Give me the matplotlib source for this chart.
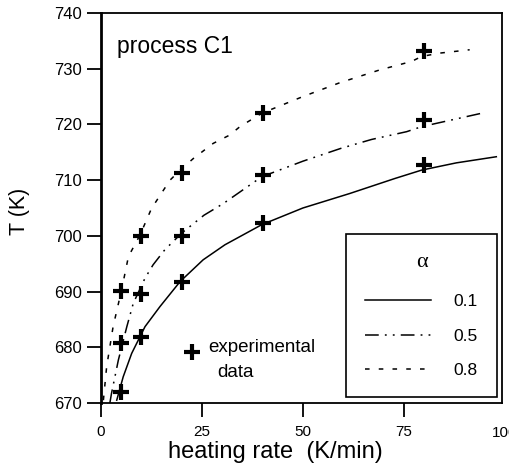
import matplotlib
matplotlib.use('Agg')
from matplotlib import pyplot as plt
from matplotlib.lines import Line2D

plt.rcParams['font.family'] = ['Liberation Sans', 'DejaVu Sans']

# model curves
x_a01 = [3.9, 5.5, 7.6, 10.9, 14.6, 19.6, 25.3, 30.7, 39.8, 50.0, 61.6, 72.8, 79.4, 88.0, 97.9]
T_a01 = [670.5, 674.7, 678.9, 683.7, 687.3, 691.8, 695.7, 698.4, 702.0, 705.0, 707.6, 710.3, 711.8, 713.1, 714.2]

x_a05 = [2.2, 2.6, 4.3, 6.4, 8.0, 10.9, 12.9, 15.8, 20.0, 25.5, 30.3, 39.8, 50.0, 59.4, 67.0, 75.7, 79.4, 94.2]
T_a05 = [670.0, 671.7, 677.7, 683.7, 687.9, 692.4, 694.8, 697.5, 700.5, 703.7, 705.8, 710.6, 713.4, 715.7, 717.3, 718.7, 719.6, 722.0]

x_a08 = [0.6, 1.4, 3.0, 5.1, 6.8, 9.7, 12.5, 15.2, 17.1, 19.6, 22.9, 27.8, 31.9, 34.4, 39.8, 50.0, 59.2, 69.1, 76.9, 79.4, 83.9, 91.3]
T_a08 = [670.5, 676.5, 683.7, 690.3, 696.3, 700.2, 704.9, 707.9, 710.0, 711.8, 713.9, 716.6, 718.1, 719.6, 722.0, 725.0, 727.5, 729.8, 731.3, 732.2, 732.8, 733.4]

# experimental data
x_exp = [5, 10, 20, 40, 80]
T_exp01 = [671.9, 681.8, 691.8, 702.3, 712.8]
T_exp05 = [680.8, 689.5, 699.9, 710.9, 720.8]
T_exp08 = [690.1, 699.9, 711.2, 722.1, 733.1]

xticks = [0, 25, 50, 75]
yticks = [670, 680, 690, 700, 710, 720, 730, 740]

ls_05 = (0, (9, 4, 1.2, 4, 1.2, 4))
ls_08 = (0, (3, 6))

fig = plt.figure(figsize=(5.09, 4.71), dpi=100)
ax = fig.add_axes([0.1984, 0.1444, 0.7878, 0.828])

ax.plot(x_a01, T_a01, color='black', lw=1.1, ls='-')
ax.plot(x_a05, T_a05, color='black', lw=1.1, ls=ls_05)
ax.plot(x_a08, T_a08, color='black', lw=1.1, ls=ls_08)

for T in (T_exp01, T_exp05, T_exp08):
    ax.plot(x_exp, T, ls='none', marker='+', ms=11, mew=3, color='black')

ax.set_xlim(0, 99.3)
ax.set_ylim(670, 740)
ax.set_xticks(xticks)
ax.set_yticks(yticks)
ax.tick_params(direction='out', length=10, width=1.3, labelsize=12, pad=4)
ax.tick_params(axis='x', labelsize=11, pad=6)
# tick label at 100 falls just past the right edge (cut like the original)
ax.text(100, 670 - 4.2, '100', fontsize=11, ha='center', va='top', clip_on=False)
for s in ax.spines.values():
    s.set_linewidth(1.3)
ax.spines['left'].set_linewidth(2)

ax.set_xlabel('heating rate  (K/min)', fontsize=17, labelpad=0)
ax.xaxis.set_label_coords(0.434, -0.098)
ax.set_ylabel('T (K)', fontsize=15.5)
ax.yaxis.set_label_coords(-0.177, 0.492)

ax.text(0.04, 0.915, 'process C1', transform=ax.transAxes, fontsize=16.5,
        ha='left', va='center')

ax.plot([22.5], [679.2], ls='none', marker='+', ms=11, mew=3, color='black')
ax.text(26.5, 680.0, 'experimental', fontsize=13.5, ha='left', va='center')
ax.text(28.7, 675.4, 'data', fontsize=13.5, ha='left', va='center')

handles = [Line2D([], [], color='black', lw=1.1, ls='-'),
           Line2D([], [], color='black', lw=1.1, ls=ls_05),
           Line2D([], [], color='black', lw=1.1, ls=ls_08)]
leg = ax.legend(handles, ['0.1', '0.5', '0.8'], title='α',
                loc='lower right', bbox_to_anchor=(0.9875, 0.0154),
                borderaxespad=0, fancybox=False, framealpha=1,
                edgecolor='black', fontsize=12.5, handlelength=3.8,
                handletextpad=1.3, labelspacing=1.1, borderpad=1.1)
leg.get_title().set_fontsize(16)
leg.get_title().set_family(['Liberation Serif', 'DejaVu Serif'])
leg.get_frame().set_linewidth(1.2)
leg._legend_box.sep = 16

fig.savefig('out.png', dpi=100)
